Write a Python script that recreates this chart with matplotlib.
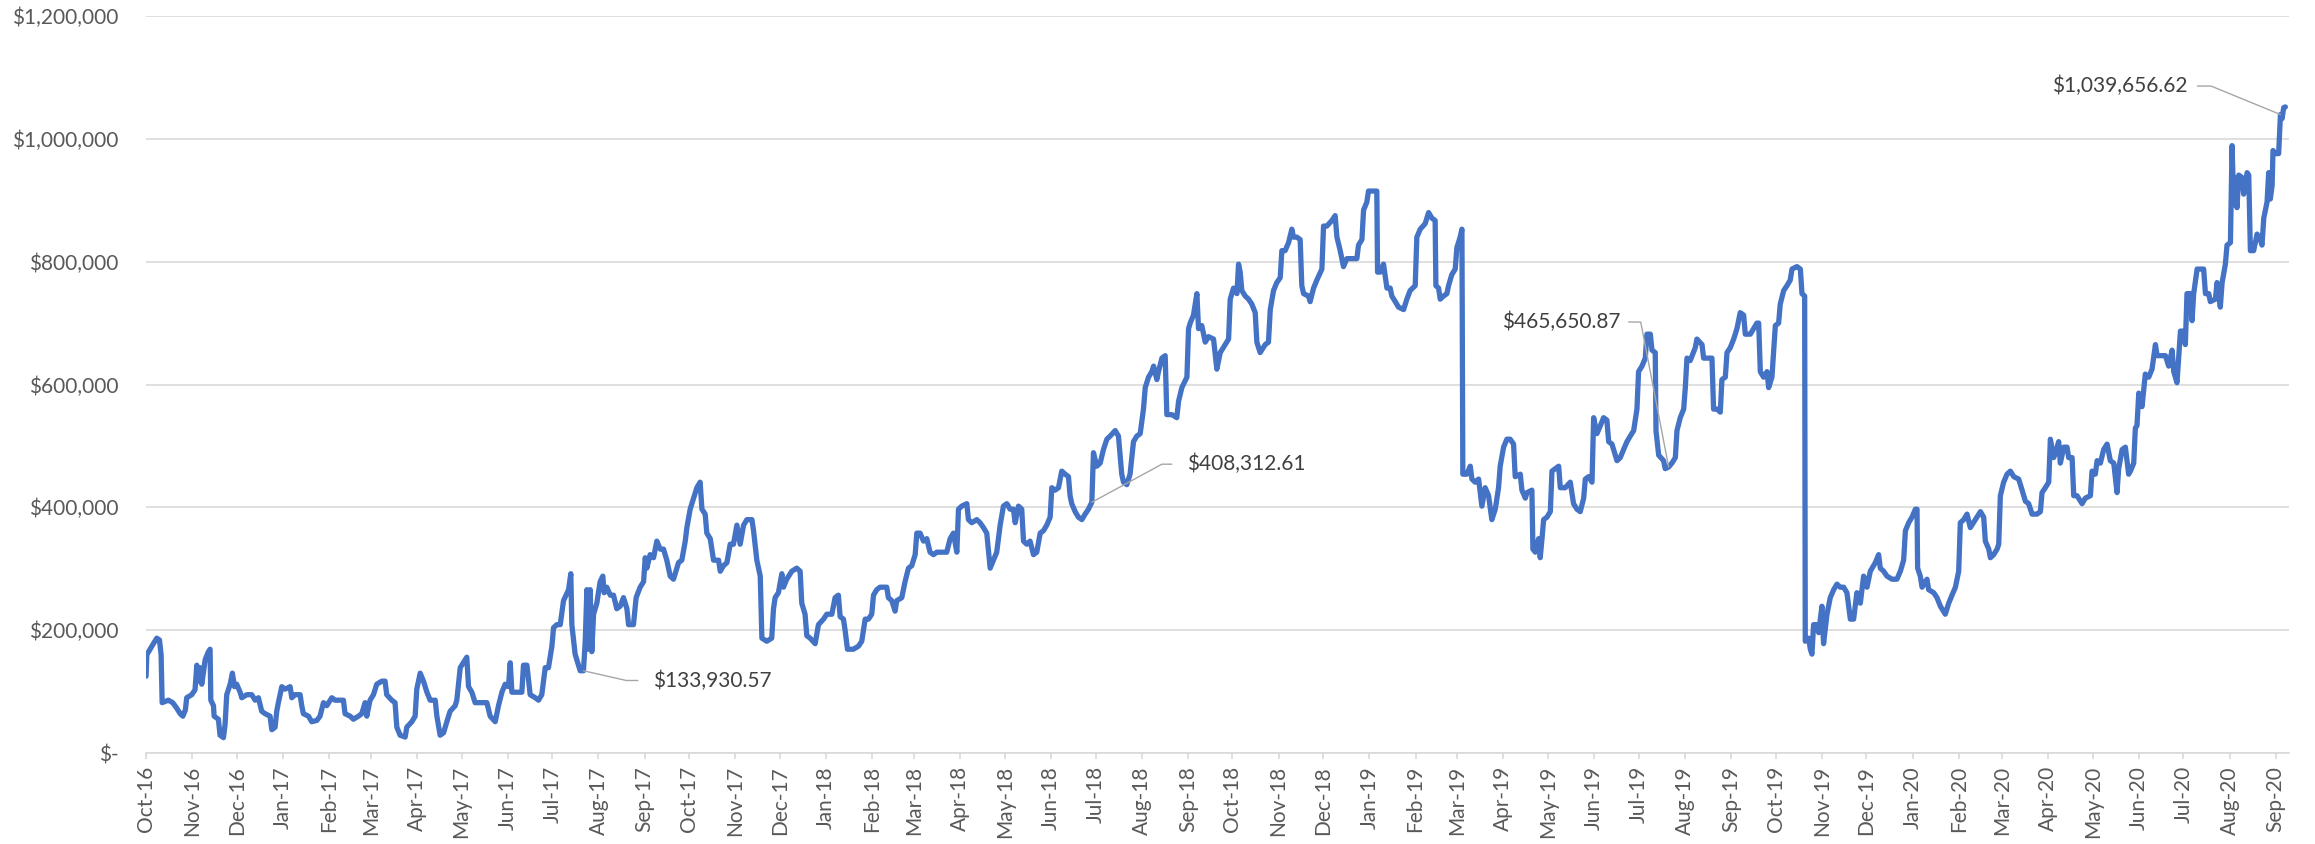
import matplotlib
matplotlib.use("Agg")
import matplotlib.pyplot as plt
import matplotlib.dates as mdates
from matplotlib.ticker import FuncFormatter
import numpy as np
import pandas as pd

plt.rcParams['font.family'] = ['Lato', 'DejaVu Sans']

# ---------------- data ----------------
start_date = "2016-10-01"

day_offset = [
    0, 0.5, 4.9, 7.2, 9.0, 10.1, 10.8, 15.0, 17.9, 20.6, 22.9, 24.7, 26.4, 27.3, 30.7, 32.9, 34.1, 35.2, 36.3, 37.4,
    38.5, 39.7, 41.9, 43.0, 43.5, 45.3, 45.7, 48.6, 49.7, 52.0, 53.1, 54.2, 56.5, 58.0, 59.4, 60.9, 63.2, 64.3, 67.7,
    71.0, 73.3, 75.5, 77.7, 80.0, 83.3, 84.5, 86.7, 87.8, 88.9, 91.2, 93.4, 96.8, 97.9, 100.1, 103.5, 104.6, 105.7,
    109.1, 111.3, 114.7, 116.9, 119.2, 121.4, 124.8, 127.0, 130.4, 132.6, 133.7, 137.1, 139.3, 142.7, 144.9, 147.2,
    148.3, 150.5, 152.8, 155.0, 158.4, 160.6, 161.7, 165.1, 167.3, 168.5, 170.7,
    174.1, 175.2, 178.6, 180.8, 181.9, 184.2, 186.4, 188.7, 190.9, 194.3, 195.4, 197.6, 199.9, 202.1, 204.3, 207.7,
    208.8, 209.9, 211.1, 214.4, 215.5, 216.7, 218.9, 221.1, 224.5, 229.0, 231.2, 234.6, 236.8, 239.1, 241.3, 243.5,
    244.7, 245.8, 249.1, 252.5, 253.6, 255.9, 258.1, 261.5, 263.7, 265.9, 268.2, 270.4, 272.7, 273.8, 276.0, 278.3,
    280.5, 283.9, 285.4, 286.1, 288.3, 291.7, 293.9, 295.1, 296.2, 297.3, 298.4, 299.5, 300.7, 302.9, 305.1, 306.9,
    307.8, 309.6, 311.9, 314.1, 316.3, 318.6, 320.8, 323.1, 324.2, 327.5, 329.3, 332.0, 334.3, 335.4, 336.5, 338.7,
    341.0, 343.2, 345.5, 347.7, 349.9, 352.2, 354.4, 357.8, 360.0, 362.3, 363.4, 365.6, 367.9, 370.1, 372.3, 373.5,
    375.7, 376.8, 379.1, 381.3, 384.7, 385.8, 388.0, 390.3, 392.5, 394.7, 397.0, 399.2, 401.5, 403.7, 407.1, 408.2,
    410.4, 412.7, 413.8,
    417.1, 420.4, 421.6, 422.7, 424.9, 427.2, 428.3, 430.5, 433.9, 437.2, 439.5, 440.6, 442.8, 444.0, 446.2, 449.6,
    451.8, 455.2, 457.4, 460.8, 463.0, 465.2, 466.4, 468.6, 469.7, 471.3, 475.3, 478.7, 480.9, 483.2, 485.4, 487.6,
    488.8, 491.0, 493.2, 495.5, 497.7, 498.8, 501.1, 503.3, 504.4, 507.8, 510.0, 512.3, 514.5, 516.8, 517.9, 520.1,
    522.4, 524.6, 526.8, 529.1, 531.3, 534.7, 538.0, 540.3, 542.5, 544.8, 545.9, 548.1, 551.5, 552.6, 554.8, 558.2,
    560.4, 562.7, 564.9, 567.2, 569.4, 571.6, 573.9, 576.1, 578.4, 580.6, 582.8, 584.0, 586.2, 588.4, 589.6, 591.8,
    594.0, 596.3, 598.5, 600.8, 603.0, 605.2, 607.5, 608.6, 610.8, 613.1, 615.3, 617.6, 619.8, 620.9, 622.0, 624.3,
    626.5, 628.8, 631.0, 633.2, 635.5, 636.6, 638.8, 641.1, 643.3, 645.6, 647.8, 651.2, 653.4, 655.6, 656.8, 659.0,
    661.2, 663.5, 665.7, 668.0,
    670.2, 671.4, 673.6, 675.8, 677.0, 679.2, 680.3, 682.6, 684.8, 685.9, 689.3, 692.6, 693.8, 696.0, 699.4, 700.5,
    701.6, 703.8, 705.0, 706.1, 707.2, 709.4, 711.7, 713.9, 717.3, 719.5, 721.8, 725.1, 727.4, 728.5, 730.7, 733.0,
    734.1, 735.2, 736.3, 738.6, 740.8, 743.0, 745.3, 746.4, 748.6, 752.0, 754.2, 755.4, 757.6, 759.8, 762.1, 763.2,
    765.4, 767.7, 769.9, 771.0, 773.3, 775.5, 776.6, 777.8, 781.1, 782.2, 784.5, 786.7, 790.1, 791.2, 793.4, 796.8,
    799.0, 800.2, 802.4, 804.6, 806.9, 810.2, 813.6, 814.7, 817.0, 818.1, 820.3, 821.4, 824.8, 827.0, 827.5, 829.3,
    831.5, 833.8, 836.0, 837.1, 839.4, 841.6, 845.0, 847.2, 849.4, 852.8, 853.9, 856.2, 859.5, 861.8, 864.0, 866.2,
    866.7, 868.5, 869.6, 871.8, 874.1, 875.2, 877.4, 879.7, 880.8, 883.0, 884.2, 884.8, 887.5, 889.8, 890.9, 893.1,
    895.4, 897.6, 899.8, 902.1, 904.3, 906.6, 908.8, 909.9, 912.2, 914.4, 916.6, 918.9, 920.0, 923.4,
    924.5, 926.8, 927.9, 931.2, 931.9, 933.5, 935.7, 936.8, 938.0, 939.1, 941.3, 943.6, 944.7, 946.9, 949.2, 950.3,
    953.6, 957.0, 959.2, 961.5, 963.7, 966.0, 967.1, 969.3, 971.6, 972.7, 974.9, 977.2, 979.4, 981.6, 982.8, 985.0,
    988.4, 990.6, 992.8, 995.1, 997.3, 999.6, 1001.8, 1002.9, 1005.2, 1007.4, 1008.5, 1010.8, 1011.9, 1014.1, 1014.6,
    1016.4, 1019.7, 1020.8, 1023.1, 1025.3, 1027.6, 1028.7, 1030.9, 1033.2, 1034.3, 1035.4, 1037.6, 1041.0, 1042.1,
    1045.5, 1046.6, 1048.8, 1052.2, 1053.3, 1055.6, 1057.8, 1058.9, 1061.2, 1062.3, 1064.5, 1066.8, 1069.0, 1070.1,
    1071.2, 1073.5, 1074.6, 1078.0, 1080.2, 1082.4, 1083.6, 1084.7, 1086.9, 1089.2, 1090.3, 1092.5, 1094.8, 1097.0,
    1098.1, 1100.4, 1102.6, 1104.8, 1106.0, 1109.3, 1111.6, 1112.7, 1114.5, 1114.9, 1117.2, 1118.3, 1119.4, 1120.5,
    1122.8, 1123.9, 1126.1, 1127.2, 1129.5, 1131.7, 1134.0, 1136.2, 1138.4, 1140.7, 1142.9, 1145.2, 1147.4, 1149.6,
    1151.9, 1154.1, 1156.4, 1158.6, 1162.0, 1164.2, 1165.3, 1167.6, 1169.8, 1173.2, 1176.5, 1178.8,
    1181.0, 1182.2, 1184.4, 1186.6, 1188.9, 1190.0, 1190.4, 1192.2, 1193.4, 1195.6, 1196.7, 1197.8, 1201.2, 1203.4,
    1205.7, 1209.0, 1211.3, 1213.5, 1215.8, 1218.0, 1219.1, 1221.4, 1223.6, 1225.8, 1229.2, 1232.6, 1234.8, 1235.9,
    1238.2, 1239.3, 1241.5, 1243.8, 1244.9, 1246.0, 1248.2, 1250.5, 1252.7, 1255.0, 1258.3, 1260.6, 1262.8, 1265.0,
    1267.3, 1270.6, 1272.9, 1274.0, 1276.2, 1278.5, 1279.6, 1281.8, 1283.0, 1285.2, 1286.3, 1288.6, 1290.8, 1291.9,
    1294.2, 1295.3, 1297.5, 1300.9, 1303.1, 1306.5, 1307.6, 1309.8, 1311.0, 1313.2, 1315.4, 1317.7, 1319.9, 1322.2,
    1324.4, 1325.5, 1327.8, 1330.0, 1332.2, 1333.4, 1335.6, 1336.7, 1337.8, 1339.0, 1341.2, 1343.4, 1345.7, 1347.9,
    1350.2, 1351.3, 1353.5, 1356.9, 1359.1, 1361.4, 1362.5, 1364.7, 1367.0, 1369.2, 1370.3, 1371.4, 1373.7, 1374.8,
    1375.9, 1378.2, 1380.4, 1382.6, 1383.8, 1386.0, 1387.1, 1390.5, 1391.6, 1393.8, 1395.0, 1397.2, 1398.3, 1400.6,
    1401.7, 1402.8, 1403.9, 1405.0, 1406.2, 1408.4, 1409.5, 1411.8, 1412.9, 1414.0, 1416.2, 1418.5, 1420.7, 1421.8,
    1423.0, 1425.2, 1426.3, 1427.4, 1428.6, 1429.2, 1430.8, 1433.0, 1434.2, 1435.3, 1436.4, 1437.5,
]

value_k = [
    125, 160, 178, 187, 184, 160, 82, 86, 82, 73, 64, 60, 70, 90, 95, 103, 143, 117, 139, 112,
    130, 152, 165, 169, 86, 77, 60, 55, 29, 25, 47, 95, 112, 130, 108, 112, 99, 90, 95,
    95, 86, 90, 68, 64, 60, 38, 42, 68, 82, 108, 104, 108, 90, 95, 95, 77, 64,
    60, 51, 53, 60, 82, 77, 90, 86, 86, 86, 64, 60, 55, 60, 64, 82,
    60, 86, 95, 112, 117, 117, 95, 86, 82, 42, 29,
    26, 42, 51, 60, 104, 130, 117, 99, 86, 86, 60, 29, 33, 51, 68, 77,
    86, 112, 139, 152, 156, 108, 99, 82, 82, 82, 60, 51, 77, 99, 112, 108,
    147, 99, 99, 99, 143, 143, 95, 90, 86, 95, 139, 139, 174, 204, 209, 209,
    248, 266, 292, 209, 161, 134, 133.93, 182, 266, 169, 266, 165, 226, 244, 279, 288,
    261, 270, 257, 257, 235, 239, 253, 235, 209, 209, 253, 270, 279, 318, 301, 323,
    318, 345, 332, 332, 314, 288, 283, 310, 314, 345, 367, 397, 415, 432, 441, 397,
    389, 358, 349, 314, 314, 296, 305, 310, 340, 340, 371, 340, 371, 380, 380, 362,
    314, 288, 187,
    182, 187, 235, 253, 261, 292, 270, 283, 296, 301, 296, 244, 226, 191, 187, 178,
    209, 218, 226, 226, 253, 257, 222, 218, 200, 169, 169, 174, 182, 218, 218, 226,
    257, 266, 270, 270, 270, 253, 248, 231, 248, 253, 279, 301, 305, 323, 358, 358,
    345, 349, 327, 323, 327, 327, 327, 349, 358, 327, 397, 402, 406, 380, 375, 380,
    375, 367, 358, 301, 314, 327, 371, 402, 406, 397, 397, 375, 402, 397, 345, 340,
    345, 323, 327, 358, 362, 371, 384, 432, 428, 432, 459, 454, 450, 419, 406, 393,
    384, 380, 389, 397, 408.31, 489, 467, 472, 494, 511, 516, 525, 516, 454, 441, 437,
    454, 507, 516, 520,
    560, 595, 612, 621, 630, 608, 621, 643, 647, 551, 551, 546, 573, 595, 612, 691,
    700, 713, 731, 748, 691, 696, 669, 678, 674, 625, 652, 665, 674, 739, 757, 748,
    796, 783, 753, 744, 739, 731, 717, 669, 652, 665, 669, 722, 753, 766, 774, 818,
    818, 831, 853, 840, 840, 836, 761, 748, 744, 735, 757, 770, 788, 858, 858, 867,
    875, 840, 818, 792, 805, 805, 805, 827, 836, 884, 897, 915, 915, 915, 783, 783,
    796, 757, 757, 744, 735, 726, 722, 739, 753, 761, 840, 853, 862, 880, 871, 867,
    761, 757, 739, 744, 748, 761, 779, 788, 823, 840, 853, 454, 454, 467, 446, 441,
    446, 402, 432, 419, 380, 397, 432, 467, 498, 511, 511, 503, 450, 454,
    428, 415, 424, 428, 332, 327, 349, 318, 349, 380, 384, 393, 459, 463, 467, 432,
    432, 441, 406, 397, 393, 415, 446, 450, 441, 546, 520, 533, 546, 542, 507, 503,
    476, 481, 494, 507, 516, 525, 560, 621, 630, 643, 682, 682, 656, 652, 525,
    485, 476, 463, 465.65, 472, 481, 525, 546, 560, 595, 643, 639, 660, 674,
    665, 643, 643, 643, 560, 560, 555, 608, 612, 652, 660, 674, 691, 704,
    717, 713, 682, 682, 691, 700, 700, 621, 612, 621, 595, 612, 696, 700,
    731, 753, 761, 770, 788, 792, 788, 748, 744, 182, 187, 169, 161, 209,
    209, 196, 239, 178, 226, 253, 266, 275, 270, 270, 261, 218, 218, 261,
    244, 288, 270, 296, 310, 323, 301, 296, 288, 283, 283, 296,
    314, 362, 375, 384, 397, 397, 301, 288, 270, 279, 283, 266, 261, 253,
    239, 226, 244, 257, 270, 296, 375, 380, 389, 367, 380, 393, 384, 345,
    332, 318, 323, 332, 340, 419, 441, 454, 459, 450, 446, 428, 410, 406,
    389, 389, 393, 424, 432, 441, 511, 481, 489, 507, 472, 498, 498, 481,
    481, 419, 419, 406, 415, 419, 459, 454, 476, 472, 494, 503, 476, 472,
    424, 463, 494, 498, 454, 459, 472, 529, 533, 586, 564, 617, 612, 625,
    665, 647, 647, 647, 630, 656, 621, 603, 687, 687, 665, 748, 748, 704,
    748, 788, 788, 788, 748, 748, 735, 739, 766, 726, 766, 796, 827, 831,
    989, 893, 937, 888, 941, 937, 910, 945, 941, 818, 818, 845, 836, 827,
    871, 897, 945, 902, 924, 981, 976, 976, 1039.66, 1033, 1051, 1052,
]

ann_day_offset = [293.9, 635.5, 1023.1, 1434.2]
ann_value = [133930.57, 408312.61, 465650.87, 1039656.62]

y_ticks = [0, 200000, 400000, 600000, 800000, 1000000, 1200000]
axis_days = 1440

# ---------------- figure ----------------
t0 = pd.Timestamp(start_date)
dates = t0 + pd.to_timedelta(day_offset, unit="D")
values = np.array(value_k) * 1000.0

fig = plt.figure(figsize=(23.15, 8.44), dpi=100)
ax = fig.add_axes([0.0631, 0.1078, 0.9257, 0.8732])

ax.plot(dates, values, color="#4472C4", lw=3.8, solid_joinstyle="round",
        solid_capstyle="round", zorder=3)

ax.set_ylim(0, 1200000)
ax.set_xlim(t0, t0 + pd.Timedelta(days=axis_days))
ax.set_yticks(y_ticks)
ax.yaxis.set_major_formatter(FuncFormatter(lambda v, p: "$-" if v == 0 else f"${v:,.0f}"))

ax.grid(axis="y", color="#d9d9d9", lw=1.2)
ax.set_axisbelow(True)
for s in ["left", "right", "top"]:
    ax.spines[s].set_visible(False)
ax.spines["bottom"].set_color("#d9d9d9")
ax.spines["bottom"].set_linewidth(1.2)

ax.xaxis.set_major_locator(mdates.MonthLocator())
ax.xaxis.set_major_formatter(mdates.DateFormatter("%b-%y"))
ax.tick_params(axis="x", length=4.5, color="#d9d9d9", width=1.2, pad=5,
               labelrotation=90, labelsize=15, labelcolor="#595959")
ax.tick_params(axis="y", length=0, pad=20, labelsize=15, labelcolor="#595959")

# data labels with leader lines
ann_layout = [
    dict(xytext=(50, -7), ha="left", relpos=(0, 0.5), angleA=180, angleB=-12.8, shrinkA=8.8),
    dict(xytext=(68.4, 27.4), ha="left", relpos=(0, 0.5), angleA=180, angleB=28.5, shrinkA=8.8),
    dict(xytext=(-34.6, 104.4), ha="right", relpos=(1, 0.5), angleA=0, angleB=100.9, shrinkA=3.8),
    dict(xytext=(-67, 20.5), ha="right", relpos=(1, 0.5), angleA=0, angleB=157.7, shrinkA=5.2),
]
for d, v, lay in zip(ann_day_offset, ann_value, ann_layout):
    ax.annotate(f"${v:,.2f}", xy=(t0 + pd.Timedelta(days=d), v),
                xytext=lay["xytext"], textcoords="offset points",
                ha=lay["ha"], va="center", fontsize=15, color="#404040",
                arrowprops=dict(arrowstyle="-", color="#a6a6a6", lw=1.0,
                                relpos=lay["relpos"], shrinkA=lay["shrinkA"], shrinkB=0,
                                connectionstyle=f"angle,angleA={lay['angleA']},angleB={lay['angleB']},rad=0"),
                zorder=4)

fig.savefig("out.png", dpi=100)
